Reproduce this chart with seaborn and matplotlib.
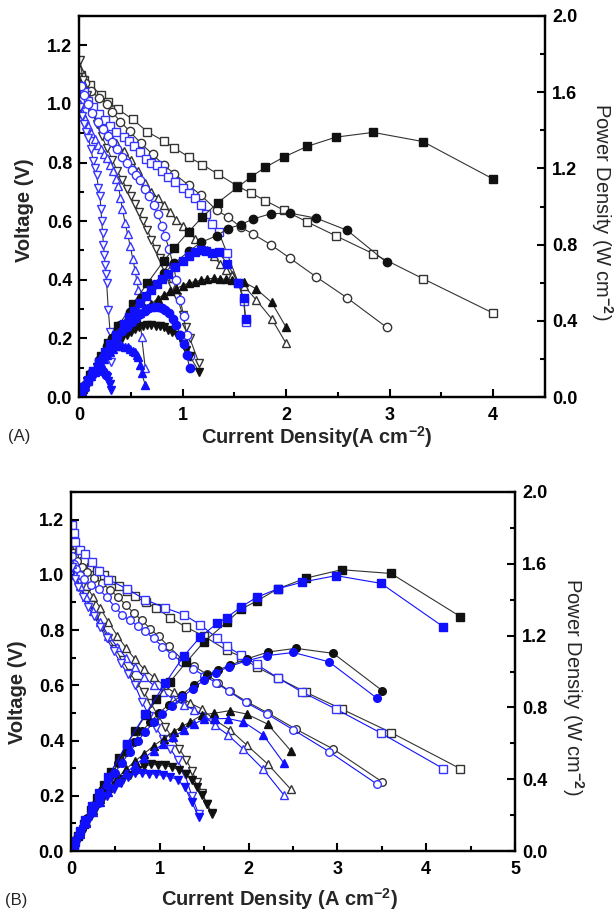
import matplotlib
matplotlib.use("Agg")
import matplotlib.pyplot as plt
import seaborn as sns
from matplotlib.ticker import MultipleLocator

# ── Panel A data (current A/cm2, voltage V, power W/cm2) ─────────────────────
a_sq_k_i = [0.02, 0.05, 0.11, 0.21, 0.28, 0.38, 0.52, 0.66, 0.82, 0.92, 1.06, 1.19, 1.34, 1.53, 1.66, 1.80, 1.98, 2.20, 2.48, 2.84, 3.32, 4.00]
a_sq_k_v = [1.10, 1.08, 1.064, 1.032, 1.007, 0.981, 0.947, 0.905, 0.873, 0.850, 0.819, 0.793, 0.761, 0.720, 0.696, 0.670, 0.637, 0.598, 0.550, 0.489, 0.404, 0.286]
a_sq_k_p = [0.022, 0.054, 0.117, 0.217, 0.282, 0.373, 0.49, 0.597, 0.716, 0.782, 0.868, 0.944, 1.02, 1.10, 1.155, 1.206, 1.26, 1.315, 1.364, 1.389, 1.341, 1.144]

a_ci_k_i = [0.02, 0.06, 0.12, 0.19, 0.27, 0.32, 0.40, 0.49, 0.60, 0.71, 0.82, 0.92, 1.06, 1.18, 1.33, 1.44, 1.56, 1.68, 1.85, 2.04, 2.29, 2.59, 2.97]
a_ci_k_v = [1.10, 1.07, 1.045, 1.02, 1.00, 0.972, 0.940, 0.906, 0.865, 0.828, 0.791, 0.762, 0.722, 0.688, 0.637, 0.614, 0.580, 0.556, 0.520, 0.473, 0.410, 0.338, 0.238]
a_ci_k_p = [0.022, 0.064, 0.125, 0.194, 0.27, 0.311, 0.376, 0.444, 0.519, 0.588, 0.649, 0.701, 0.765, 0.812, 0.847, 0.884, 0.905, 0.934, 0.962, 0.965, 0.939, 0.875, 0.707]

a_tu_k_i = [0.01, 0.04, 0.08, 0.13, 0.18, 0.24, 0.30, 0.36, 0.43, 0.50, 0.57, 0.64, 0.70, 0.76, 0.82, 0.88, 0.94, 1.00, 1.06, 1.12, 1.18, 1.24, 1.30, 1.36, 1.42, 1.48, 1.59, 1.71, 1.86, 2.00]
a_tu_k_v = [1.12, 1.07, 1.03, 0.99, 0.95, 0.92, 0.89, 0.865, 0.84, 0.81, 0.77, 0.73, 0.70, 0.68, 0.655, 0.63, 0.605, 0.585, 0.565, 0.54, 0.52, 0.50, 0.48, 0.455, 0.435, 0.415, 0.38, 0.332, 0.267, 0.183]
a_tu_k_p = [0.011, 0.043, 0.082, 0.129, 0.171, 0.221, 0.267, 0.311, 0.361, 0.405, 0.439, 0.467, 0.49, 0.517, 0.537, 0.554, 0.569, 0.585, 0.599, 0.605, 0.614, 0.62, 0.624, 0.619, 0.618, 0.614, 0.604, 0.568, 0.497, 0.366]

a_td_k_i = [0.01, 0.04, 0.08, 0.12, 0.17, 0.22, 0.27, 0.32, 0.37, 0.42, 0.46, 0.50, 0.54, 0.58, 0.62, 0.66, 0.70, 0.74, 0.78, 0.82, 0.86, 0.90, 0.95, 1.00, 1.03, 1.07, 1.16]
a_td_k_v = [1.15, 1.08, 1.03, 0.98, 0.93, 0.89, 0.85, 0.81, 0.77, 0.74, 0.71, 0.685, 0.66, 0.63, 0.60, 0.57, 0.537, 0.505, 0.475, 0.445, 0.41, 0.38, 0.34, 0.28, 0.24, 0.20, 0.115]
a_td_k_p = [0.012, 0.043, 0.082, 0.118, 0.158, 0.196, 0.23, 0.259, 0.285, 0.311, 0.327, 0.343, 0.356, 0.365, 0.372, 0.376, 0.376, 0.374, 0.371, 0.365, 0.353, 0.342, 0.323, 0.28, 0.247, 0.214, 0.133]

a_sq_b_i = [0.02, 0.05, 0.09, 0.14, 0.19, 0.25, 0.30, 0.36, 0.43, 0.48, 0.53, 0.59, 0.65, 0.70, 0.75, 0.80, 0.86, 0.93, 1.00, 1.06, 1.12, 1.18, 1.23, 1.28, 1.35, 1.43, 1.54, 1.59, 1.61]
a_sq_b_v = [1.06, 1.04, 1.01, 0.99, 0.965, 0.945, 0.926, 0.905, 0.888, 0.872, 0.856, 0.835, 0.812, 0.80, 0.79, 0.772, 0.752, 0.734, 0.713, 0.697, 0.678, 0.655, 0.625, 0.59, 0.562, 0.49, 0.388, 0.326, 0.255]
a_sq_b_p = [0.021, 0.052, 0.091, 0.139, 0.183, 0.236, 0.278, 0.326, 0.382, 0.419, 0.454, 0.493, 0.528, 0.56, 0.593, 0.618, 0.647, 0.683, 0.713, 0.739, 0.759, 0.773, 0.769, 0.755, 0.759, 0.70, 0.598, 0.518, 0.41]

a_ci_b_i = [0.02, 0.05, 0.09, 0.13, 0.18, 0.23, 0.28, 0.32, 0.37, 0.42, 0.46, 0.51, 0.55, 0.59, 0.64, 0.68, 0.72, 0.76, 0.80, 0.83, 0.87, 0.91, 0.94, 0.98, 1.01, 1.04, 1.07]
a_ci_b_v = [1.06, 1.03, 1.00, 0.97, 0.94, 0.915, 0.89, 0.87, 0.845, 0.82, 0.80, 0.775, 0.758, 0.742, 0.71, 0.685, 0.655, 0.625, 0.585, 0.55, 0.505, 0.45, 0.40, 0.33, 0.275, 0.21, 0.14]
a_ci_b_p = [0.021, 0.052, 0.09, 0.126, 0.169, 0.21, 0.249, 0.278, 0.313, 0.344, 0.368, 0.395, 0.417, 0.438, 0.454, 0.466, 0.472, 0.475, 0.468, 0.457, 0.439, 0.41, 0.376, 0.323, 0.278, 0.218, 0.15]

a_tu_b_i = [0.01, 0.03, 0.06, 0.09, 0.12, 0.15, 0.18, 0.21, 0.24, 0.27, 0.30, 0.33, 0.36, 0.38, 0.40, 0.42, 0.445, 0.47, 0.495, 0.52, 0.54, 0.557, 0.573, 0.589, 0.605, 0.64]
a_tu_b_v = [1.00, 0.97, 0.95, 0.925, 0.90, 0.88, 0.86, 0.845, 0.83, 0.815, 0.79, 0.77, 0.745, 0.72, 0.68, 0.64, 0.594, 0.555, 0.514, 0.47, 0.434, 0.40, 0.366, 0.286, 0.206, 0.098]
a_tu_b_p = [0.010, 0.029, 0.057, 0.083, 0.108, 0.132, 0.155, 0.177, 0.199, 0.22, 0.237, 0.254, 0.268, 0.274, 0.272, 0.269, 0.264, 0.261, 0.254, 0.244, 0.234, 0.223, 0.21, 0.168, 0.125, 0.063]

a_td_b_i = [0.01, 0.026, 0.045, 0.065, 0.09, 0.115, 0.138, 0.155, 0.171, 0.187, 0.203, 0.212, 0.22, 0.228, 0.236, 0.244, 0.252, 0.26, 0.267, 0.283, 0.30, 0.31]
a_td_b_v = [0.99, 0.958, 0.93, 0.905, 0.884, 0.845, 0.805, 0.78, 0.759, 0.713, 0.685, 0.64, 0.60, 0.56, 0.52, 0.485, 0.45, 0.42, 0.389, 0.297, 0.223, 0.12]
a_td_b_p = [0.010, 0.025, 0.042, 0.059, 0.080, 0.097, 0.111, 0.121, 0.130, 0.133, 0.139, 0.136, 0.132, 0.128, 0.123, 0.118, 0.113, 0.109, 0.104, 0.084, 0.067, 0.037]

# ── Panel B data ──────────────────────────────────────────────────────────────
b_sq_k_i = [0.01, 0.03, 0.08, 0.143, 0.22, 0.29, 0.368, 0.45, 0.537, 0.63, 0.724, 0.84, 0.96, 1.115, 1.30, 1.497, 1.753, 1.914, 2.09, 2.335, 2.643, 3.048, 3.604, 4.384]
b_sq_k_v = [1.10, 1.08, 1.065, 1.049, 1.03, 1.015, 1.0, 0.98, 0.961, 0.942, 0.922, 0.90, 0.88, 0.845, 0.81, 0.778, 0.727, 0.704, 0.666, 0.626, 0.575, 0.514, 0.429, 0.298]
b_sq_k_p = [0.011, 0.032, 0.085, 0.15, 0.227, 0.294, 0.368, 0.441, 0.516, 0.593, 0.668, 0.756, 0.845, 0.942, 1.053, 1.165, 1.274, 1.347, 1.392, 1.462, 1.52, 1.567, 1.546, 1.306]

b_sq_b_i = [0.01, 0.03, 0.05, 0.10, 0.16, 0.24, 0.32, 0.42, 0.63, 0.837, 1.062, 1.269, 1.453, 1.644, 1.753, 1.914, 2.09, 2.335, 2.605, 2.984, 3.491, 4.193]
b_sq_b_v = [1.18, 1.15, 1.12, 1.09, 1.075, 1.045, 1.015, 0.983, 0.949, 0.91, 0.88, 0.856, 0.82, 0.771, 0.741, 0.71, 0.676, 0.626, 0.575, 0.514, 0.427, 0.298]
b_sq_b_p = [0.012, 0.035, 0.056, 0.109, 0.172, 0.251, 0.325, 0.413, 0.598, 0.762, 0.935, 1.086, 1.191, 1.268, 1.30, 1.359, 1.413, 1.462, 1.498, 1.534, 1.491, 1.249]

b_ci_k_i = [0.01, 0.03, 0.07, 0.12, 0.18, 0.26, 0.349, 0.44, 0.53, 0.62, 0.706, 0.80, 0.89, 0.987, 1.10, 1.25, 1.38, 1.53, 1.65, 1.79, 1.978, 2.222, 2.534, 2.954, 3.506]
b_ci_k_v = [1.10, 1.07, 1.05, 1.03, 1.01, 0.99, 0.971, 0.945, 0.92, 0.89, 0.862, 0.835, 0.805, 0.777, 0.741, 0.695, 0.67, 0.64, 0.61, 0.578, 0.541, 0.499, 0.441, 0.369, 0.25]
b_ci_k_p = [0.011, 0.032, 0.074, 0.124, 0.182, 0.257, 0.339, 0.416, 0.488, 0.552, 0.609, 0.668, 0.716, 0.767, 0.815, 0.869, 0.925, 0.979, 1.007, 1.035, 1.07, 1.109, 1.129, 1.101, 0.893]

b_ci_b_i = [0.01, 0.03, 0.06, 0.10, 0.15, 0.22, 0.311, 0.40, 0.49, 0.574, 0.66, 0.75, 0.837, 0.93, 1.03, 1.14, 1.25, 1.37, 1.50, 1.63, 1.78, 1.967, 2.203, 2.503, 2.905, 3.443]
b_ci_b_v = [1.07, 1.04, 1.02, 1.0, 0.985, 0.965, 0.949, 0.92, 0.885, 0.856, 0.835, 0.815, 0.795, 0.77, 0.74, 0.71, 0.685, 0.66, 0.635, 0.61, 0.578, 0.538, 0.497, 0.439, 0.36, 0.243]
b_ci_b_p = [0.011, 0.031, 0.061, 0.10, 0.148, 0.212, 0.295, 0.368, 0.434, 0.491, 0.551, 0.611, 0.665, 0.716, 0.762, 0.809, 0.856, 0.904, 0.953, 0.994, 1.027, 1.058, 1.088, 1.106, 1.054, 0.852]

b_tu_k_i = [0.01, 0.05, 0.10, 0.17, 0.25, 0.33, 0.42, 0.52, 0.62, 0.72, 0.818, 0.93, 1.044, 1.156, 1.25, 1.344, 1.475, 1.607, 1.79, 1.978, 2.215, 2.474]
b_tu_k_v = [1.09, 1.04, 1.0, 0.96, 0.92, 0.88, 0.83, 0.78, 0.735, 0.695, 0.66, 0.63, 0.60, 0.575, 0.555, 0.535, 0.514, 0.477, 0.439, 0.384, 0.315, 0.224]
b_tu_k_p = [0.011, 0.052, 0.10, 0.163, 0.23, 0.29, 0.349, 0.406, 0.456, 0.50, 0.54, 0.586, 0.626, 0.665, 0.694, 0.719, 0.758, 0.767, 0.782, 0.763, 0.707, 0.559]

b_tu_b_i = [0.01, 0.05, 0.10, 0.17, 0.25, 0.33, 0.42, 0.52, 0.62, 0.72, 0.82, 0.93, 1.04, 1.15, 1.27, 1.39, 1.50, 1.62, 1.765, 1.94, 2.166, 2.399]
b_tu_b_v = [1.04, 1.0, 0.96, 0.92, 0.87, 0.83, 0.78, 0.74, 0.70, 0.665, 0.63, 0.60, 0.575, 0.55, 0.53, 0.51, 0.49, 0.455, 0.421, 0.369, 0.296, 0.202]
b_tu_b_p = [0.010, 0.05, 0.096, 0.156, 0.218, 0.274, 0.328, 0.385, 0.434, 0.479, 0.517, 0.558, 0.598, 0.633, 0.673, 0.709, 0.735, 0.737, 0.738, 0.72, 0.646, 0.488]

b_td_k_i = [0.01, 0.05, 0.10, 0.16, 0.22, 0.28, 0.35, 0.42, 0.50, 0.58, 0.66, 0.74, 0.82, 0.90, 0.98, 1.06, 1.14, 1.22, 1.30, 1.36, 1.42, 1.48, 1.53, 1.588]
b_td_k_v = [1.08, 1.01, 0.97, 0.93, 0.89, 0.85, 0.81, 0.77, 0.73, 0.69, 0.645, 0.61, 0.575, 0.535, 0.49, 0.45, 0.41, 0.37, 0.33, 0.29, 0.25, 0.21, 0.17, 0.135]
b_td_k_p = [0.011, 0.051, 0.097, 0.149, 0.196, 0.238, 0.284, 0.323, 0.365, 0.40, 0.426, 0.451, 0.472, 0.482, 0.48, 0.477, 0.467, 0.451, 0.429, 0.394, 0.355, 0.311, 0.26, 0.214]

b_td_b_i = [0.01, 0.04, 0.08, 0.13, 0.19, 0.26, 0.33, 0.40, 0.48, 0.56, 0.64, 0.72, 0.80, 0.88, 0.96, 1.04, 1.12, 1.20, 1.28, 1.36, 1.438]
b_td_b_v = [1.03, 0.985, 0.955, 0.92, 0.885, 0.85, 0.81, 0.77, 0.725, 0.68, 0.64, 0.60, 0.54, 0.49, 0.445, 0.405, 0.37, 0.33, 0.28, 0.20, 0.133]
b_td_b_p = [0.010, 0.039, 0.076, 0.12, 0.168, 0.221, 0.267, 0.308, 0.348, 0.381, 0.41, 0.432, 0.432, 0.431, 0.427, 0.421, 0.414, 0.396, 0.358, 0.272, 0.191]

BLACK = "#111111"
GREY = "#333333"
BLUE = "#1010ff"
BLUE_OPEN = "#3535ff"

sns.set_theme(style="ticks")
plt.rcParams["font.family"] = ["Liberation Sans", "DejaVu Sans"]
plt.rcParams["font.weight"] = "bold"
plt.rcParams["mathtext.fontset"] = "custom"
plt.rcParams["mathtext.rm"] = "Liberation Sans"
plt.rcParams["mathtext.bf"] = "Liberation Sans:bold"


def draw_pair(ax, ax2, cur, volt, power, marker, blue, line, ms):
    edge = BLUE_OPEN if blue else GREY
    fill = BLUE if blue else BLACK
    # open symbols: voltage on left axis
    sns.lineplot(x=cur, y=volt, ax=ax, sort=False, estimator=None, color=line,
                 lw=0.8, marker=marker, ms=ms, mfc="white", mec=edge, mew=1.0)
    # filled symbols: power density on right axis
    sns.lineplot(x=cur, y=power, ax=ax2, sort=False, estimator=None, color=line,
                 lw=0.8, marker=marker, ms=ms, mfc=fill, mec=fill, mew=1.0)


def style_axes(ax, ax2, xmax):
    ax.set_xlim(0, xmax)
    ax.set_ylim(0, 1.3)
    ax2.set_ylim(0, 2.0)
    ax.xaxis.set_major_locator(MultipleLocator(1))
    ax.xaxis.set_minor_locator(MultipleLocator(0.5))
    ax.yaxis.set_major_locator(MultipleLocator(0.2))
    ax.yaxis.set_minor_locator(MultipleLocator(0.1))
    ax2.yaxis.set_major_locator(MultipleLocator(0.4))
    ax2.yaxis.set_minor_locator(MultipleLocator(0.2))
    for a in (ax, ax2):
        a.tick_params(which="both", direction="in", top=False, labelsize=13,
                      colors="black", width=1.5)
        a.tick_params(which="major", length=6)
        a.tick_params(which="minor", length=3.5)
        for s in a.spines.values():
            s.set_linewidth(1.6)
            s.set_color("black")
    ax.tick_params(axis="y", right=False, pad=5)
    ax.tick_params(axis="x", pad=7)
    ax2.tick_params(axis="y", pad=5)


def set_labels(ax, ax2, xlabel, xpos, ypos, rpos):
    ax.set_xlabel(xlabel, fontsize=14.5, fontweight="bold", va="center")
    ax.set_ylabel("Voltage (V)", fontsize=14.5, fontweight="bold", va="center")
    ax2.set_ylabel("Power Density (W cm$^{-2}$)", fontsize=14.5, fontweight="normal",
                   rotation=270, va="center", ha="center")
    ax.xaxis.set_label_coords(*xpos)
    ax.yaxis.set_label_coords(*ypos)
    ax2.yaxis.set_label_coords(*rpos)


fig = plt.figure(figsize=(6.14, 9.15), dpi=100)

# ── (A) ───────────────────────────────────────────────────────────────────────
axA = fig.add_axes([79 / 614, 1 - 397 / 915, 466 / 614, 381 / 915])
axA2 = axA.twinx()
series_a = [
    (a_sq_k_i, a_sq_k_v, a_sq_k_p, "s", False),
    (a_ci_k_i, a_ci_k_v, a_ci_k_p, "o", False),
    (a_tu_k_i, a_tu_k_v, a_tu_k_p, "^", False),
    (a_td_k_i, a_td_k_v, a_td_k_p, "v", False),
    (a_sq_b_i, a_sq_b_v, a_sq_b_p, "s", True),
    (a_ci_b_i, a_ci_b_v, a_ci_b_p, "o", True),
    (a_tu_b_i, a_tu_b_v, a_tu_b_p, "^", True),
    (a_td_b_i, a_td_b_v, a_td_b_p, "v", True),
]
for cur, volt, power, m, blue in series_a:
    draw_pair(axA, axA2, cur, volt, power, m, blue, GREY, 6)
style_axes(axA, axA2, 4.5)
set_labels(axA, axA2, "Current Density(A cm$^{\\mathbf{-2}}$)",
           (0.51, -0.105), (-0.118, 0.49), (1.122, 0.486))

# ── (B) ───────────────────────────────────────────────────────────────────────
axB = fig.add_axes([71 / 614, 1 - 851 / 915, 444 / 614, 359 / 915])
axB2 = axB.twinx()
series_b = [
    (b_sq_k_i, b_sq_k_v, b_sq_k_p, "s", False),
    (b_ci_k_i, b_ci_k_v, b_ci_k_p, "o", False),
    (b_tu_k_i, b_tu_k_v, b_tu_k_p, "^", False),
    (b_td_k_i, b_td_k_v, b_td_k_p, "v", False),
    (b_sq_b_i, b_sq_b_v, b_sq_b_p, "s", True),
    (b_ci_b_i, b_ci_b_v, b_ci_b_p, "o", True),
    (b_tu_b_i, b_tu_b_v, b_tu_b_p, "^", True),
    (b_td_b_i, b_td_b_v, b_td_b_p, "v", True),
]
for cur, volt, power, m, blue in series_b:
    draw_pair(axB, axB2, cur, volt, power, m, blue, BLUE if blue else GREY, 5.5)
style_axes(axB, axB2, 5)
set_labels(axB, axB2, "Current Density (A cm$^{\\mathbf{-2}}$)",
           (0.47, -0.135), (-0.12, 0.443), (1.13, 0.457))

fig.text(8 / 614, 1 - 437 / 915, "(A)", fontsize=12, fontweight="normal", va="center")
fig.text(5 / 614, 1 - 900 / 915, "(B)", fontsize=12, fontweight="normal", va="center")

fig.savefig("out.png", dpi=100)
